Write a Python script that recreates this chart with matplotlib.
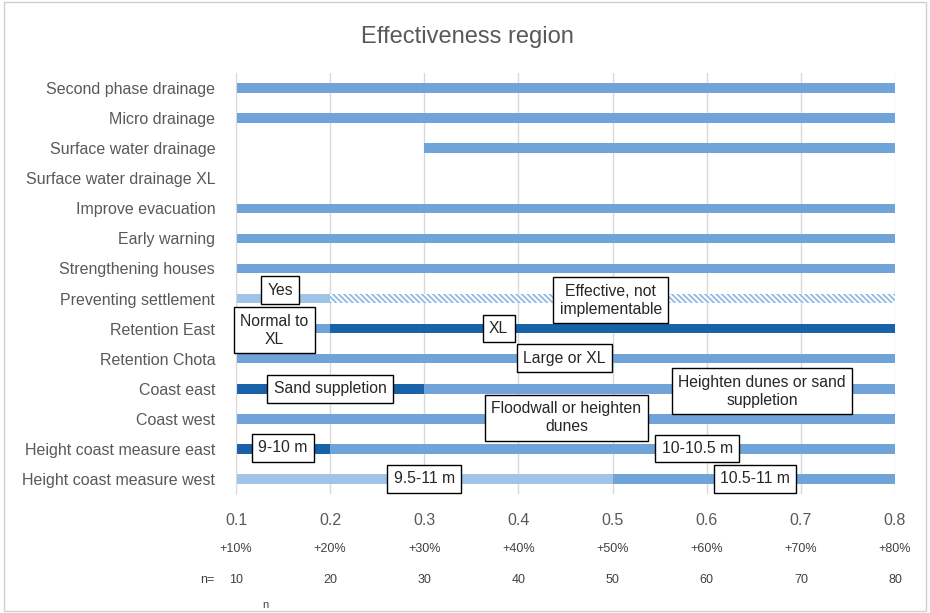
import numpy as np
import matplotlib
matplotlib.use("Agg")
import matplotlib.pyplot as plt
from matplotlib.patches import Rectangle
from matplotlib.transforms import blended_transform_factory

plt.rcParams['font.family'] = ['Liberation Sans', 'DejaVu Sans']
plt.rcParams['hatch.linewidth'] = 1.3

categories = ['Second phase drainage', 'Micro drainage', 'Surface water drainage',
              'Surface water drainage XL', 'Improve evacuation', 'Early warning',
              'Strengthening houses', 'Preventing settlement', 'Retention East',
              'Retention Chota', 'Coast east', 'Coast west',
              'Height coast measure east', 'Height coast measure west']

# each row: start -> split (first segment), split -> end (second segment)
start = [0.1, 0.1, 0.3, 0.1, 0.1, 0.1, 0.1, 0.1, 0.1, 0.1, 0.1, 0.1, 0.1, 0.1]
split = [0.8, 0.8, 0.8, 0.1, 0.8, 0.8, 0.8, 0.2, 0.2, 0.8, 0.3, 0.8, 0.2, 0.5]
end = [0.8, 0.8, 0.8, 0.1, 0.8, 0.8, 0.8, 0.8, 0.8, 0.8, 0.8, 0.8, 0.8, 0.8]
first_kind = ['mid', 'mid', 'mid', 'mid', 'mid', 'mid', 'mid', 'light', 'mid',
              'mid', 'dark', 'mid', 'dark', 'light']
second_kind = ['mid', 'mid', 'mid', 'mid', 'mid', 'mid', 'mid', 'hatch', 'dark',
               'mid', 'mid', 'mid', 'mid', 'mid']

ticks = [0.1, 0.2, 0.3, 0.4, 0.5, 0.6, 0.7, 0.8]
tick_labels = ['0.1', '0.2', '0.3', '0.4', '0.5', '0.6', '0.7', '0.8']
pct_labels = ['+10%', '+20%', '+30%', '+40%', '+50%', '+60%', '+70%', '+80%']
n_labels = ['10', '20', '30', '40', '50', '60', '70', '80']

# annotation boxes: text, x value, row
notes = [('Yes', 0.147, 6.72),
         ('Effective, not\nimplementable', 0.498, 7.05),
         ('Normal to\nXL', 0.141, 8.05),
         ('XL', 0.379, 8.0),
         ('Large or XL', 0.449, 8.98),
         ('Sand suppletion', 0.200, 10.0),
         ('Heighten dunes or sand\nsuppletion', 0.659, 10.08),
         ('Floodwall or heighten\ndunes', 0.451, 10.97),
         ('9-10 m', 0.150, 11.97),
         ('10-10.5 m', 0.590, 11.99),
         ('9.5-11 m', 0.300, 13.0),
         ('10.5-11 m', 0.651, 13.0)]

colors = {'mid': '#70a3d7', 'dark': '#1862a8', 'light': '#9fc4e6'}
label_gray = '#595959'

fig = plt.figure(figsize=(9.30, 6.13), dpi=100)
ax = fig.add_axes([236 / 930, 1 - 494 / 613, 659 / 930, 421 / 613])

fig.patches.append(Rectangle((0.004, 0.004), 0.992, 0.992, transform=fig.transFigure,
                             fill=False, edgecolor='#d0d0d0', linewidth=1))

y = np.arange(len(categories))
h = 0.32
start = np.array(start)
split = np.array(split)
end = np.array(end)

for i in range(len(categories)):
    w1 = split[i] - start[i]
    if w1 > 0:
        ax.barh(y[i], w1, left=start[i], height=h, color=colors[first_kind[i]],
                linewidth=0, zorder=2)
    w2 = end[i] - split[i]
    if w2 > 0:
        if second_kind[i] == 'hatch':
            ax.barh(y[i], w2, left=split[i], height=h, facecolor='white',
                    edgecolor='#8fbae3', hatch='\\\\\\\\\\\\', linewidth=0, zorder=2)
        else:
            ax.barh(y[i], w2, left=split[i], height=h, color=colors[second_kind[i]],
                    linewidth=0, zorder=2)

for txt, xv, yv in notes:
    ax.text(xv, yv, txt, ha='center', va='center', fontsize=11.3, color='#262626',
            zorder=5, linespacing=1.25,
            bbox=dict(boxstyle='square,pad=0.4', facecolor='white', edgecolor='black',
                      linewidth=1))

ax.set_xlim(0.1, 0.8)
ax.set_ylim(len(categories) - 0.5, -0.5)
ax.set_yticks(y)
ax.set_yticklabels(categories, fontsize=11.5, color=label_gray)
ax.set_xticks(ticks)
ax.set_xticklabels(tick_labels, fontsize=11.5, color=label_gray)
ax.tick_params(axis='both', length=0)
ax.tick_params(axis='x', pad=14)
ax.tick_params(axis='y', pad=15)
ax.grid(axis='x', color='#d9d9d9', linewidth=1, zorder=0)
ax.set_axisbelow(True)
for s in ['top', 'right', 'bottom']:
    ax.spines[s].set_visible(False)
ax.spines['left'].set_color('#d9d9d9')

tr = blended_transform_factory(ax.transData, fig.transFigure)
for xv, p, n in zip(ticks, pct_labels, n_labels):
    fig.text(xv, 1 - 549 / 613, p, transform=tr, ha='center', va='center',
             fontsize=9, color='#404040')
    fig.text(xv, 1 - 580 / 613, n, transform=tr, ha='center', va='center',
             fontsize=9, color='#404040')
fig.text(207 / 930, 1 - 580 / 613, 'n=', ha='center', va='center', fontsize=9,
         color='#404040')
fig.text(265 / 930, 1 - 605 / 613, 'n', ha='center', va='center', fontsize=8,
         color='#404040')

fig.text(467 / 930, 1 - 37 / 613, 'Effectiveness region', ha='center', va='center',
         fontsize=17, color=label_gray)

fig.savefig('out.png', dpi=100)
